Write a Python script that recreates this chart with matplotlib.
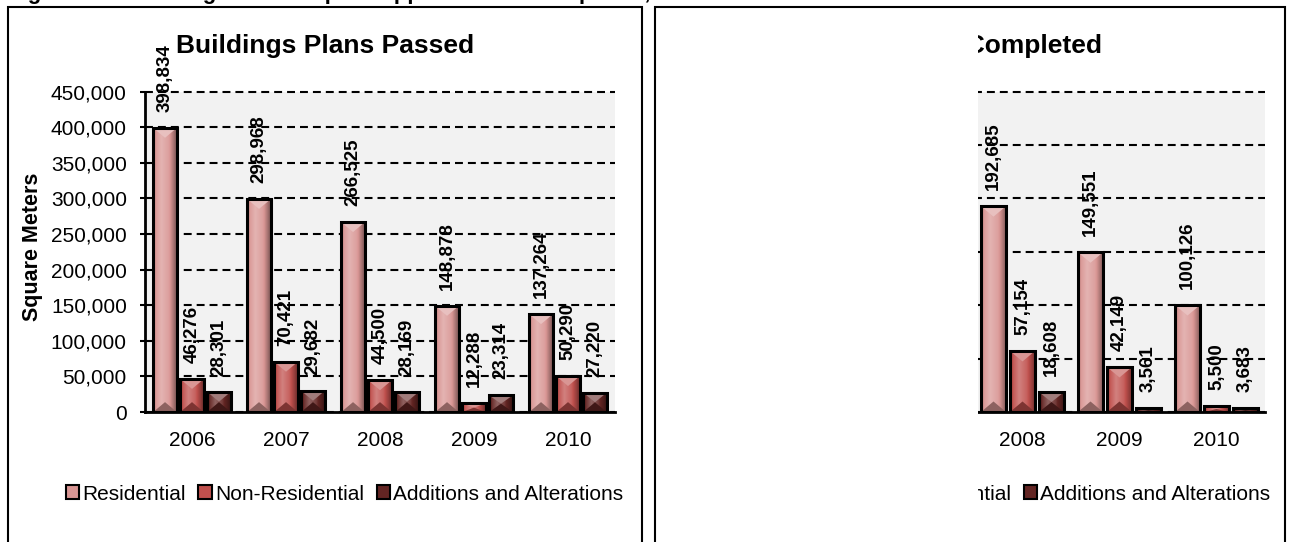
import numpy as np
import matplotlib
matplotlib.use("Agg")
import matplotlib.pyplot as plt
from matplotlib.colors import to_rgb
from matplotlib.patches import Polygon, Rectangle, Patch
from matplotlib.ticker import FuncFormatter

plt.rcParams["font.family"] = ["Liberation Sans", "DejaVu Sans"]

# Floor space figures (square meters)
SERIES = ["Residential", "Non-Residential", "Additions and Alterations"]
COLORS = ["#d99694", "#c0504d", "#632523"]

PASSED_YEARS = ["2006", "2007", "2008", "2009", "2010"]
PASSED_RES = [398834, 298968, 266525, 148878, 137264]
PASSED_NONRES = [46276, 70421, 44500, 12288, 50290]
PASSED_ADD = [28301, 29682, 28169, 23314, 27220]

COMPLETED_YEARS = ["2008", "2009", "2010"]
COMPLETED_RES = [192685, 149551, 100126]
COMPLETED_NONRES = [57154, 42149, 5500]
COMPLETED_ADD = [18608, 3561, 3683]

W, H = 1291, 542
fig = plt.figure(figsize=(W / 100, H / 100), dpi=100)


def fx(px):
    return px / W


def fy(py):
    return 1 - py / H


def shade(color, f):
    c = np.array(to_rgb(color))
    if f >= 0:
        return c + (1 - c) * f
    return c * (1 + f)


def bevel(ax, bar, color, px_per_unit_y, px_per_unit_x):
    """Paint a bevelled look over a plain bar patch."""
    x0, w, h = bar.get_x(), bar.get_width(), bar.get_height()
    t = np.linspace(0, 1, 64)
    prof = np.interp(t, [0, 0.12, 0.35, 0.65, 0.88, 1.0],
                     [-0.25, 0.05, 0.28, 0.10, -0.25, -0.45])
    grad = np.array([[shade(color, f) for f in prof]])
    ax.imshow(grad, extent=(x0, x0 + w, 0, h), aspect="auto",
              interpolation="bilinear", zorder=2.1)
    h_px = h * px_per_unit_y
    w_px = w * px_per_unit_x
    d_px = min(w_px * 0.42, h_px / 2)
    d = d_px / px_per_unit_y
    xc = x0 + w / 2
    ax.add_patch(Polygon([(x0, h), (x0 + w, h), (xc, h - d)], closed=True,
                         facecolor=shade(color, 0.4), edgecolor="none", zorder=2.2))
    ax.add_patch(Polygon([(x0, 0), (x0 + w, 0), (xc, d)], closed=True,
                         facecolor=shade(color, -0.35), edgecolor="none", zorder=2.2))
    ax.add_patch(Rectangle((x0, 0), w, h, fill=False, edgecolor="black",
                           linewidth=2.2, zorder=2.5))


def draw_chart(rect_px, years, series_vals, ymax, bar_w, off):
    left, right, top, bottom = rect_px
    ax = fig.add_axes([fx(left), fy(bottom), fx(right - left), (bottom - top) / H])
    x = np.arange(len(years))
    ax.set_facecolor("#f2f2f2")
    ppy = (bottom - top) / ymax
    ppx = (right - left) / len(years)
    for i, (vals, col) in enumerate(zip(series_vals, COLORS)):
        bars = ax.bar(x + (i - 1) * off, vals, width=bar_w, color=col,
                      edgecolor="black", linewidth=2, zorder=2, label=SERIES[i])
        for b, v in zip(bars, vals):
            bevel(ax, b, col, ppy, ppx)
            ax.annotate(f"{v:,}", xy=(b.get_x() + b.get_width() / 2, v),
                        xytext=(0, 16), textcoords="offset pixels",
                        rotation=90, ha="center", va="bottom",
                        fontsize=13.5, fontweight="bold", zorder=3)
    ax.set_xlim(-0.5, len(years) - 0.5)
    ax.set_ylim(0, ymax)
    ax.set_xticks(x)
    ax.set_xticklabels(years)
    ax.set_yticks(np.arange(0, ymax + 1, 50000))
    ax.yaxis.set_major_formatter(FuncFormatter(lambda v, _: f"{int(v):,}"))
    ax.tick_params(axis="x", length=0, pad=14, labelsize=15)
    ax.tick_params(axis="y", length=3.6, width=1.5, direction="out", pad=9.5,
                   labelsize=15)
    ax.set_axisbelow(True)
    ax.yaxis.grid(True, color="black", linestyle=(0, (3.8, 2.4)), linewidth=1.5)
    for gl in ax.yaxis.get_gridlines():
        gl.set_clip_on(False)
    for s in ["top", "right"]:
        ax.spines[s].set_visible(False)
    for s in ["left", "bottom"]:
        ax.spines[s].set_linewidth(2)
    return ax


def add_legend(ax, cx, cy):
    handles = [Patch(facecolor=c, edgecolor="black", linewidth=1.5) for c in COLORS]
    ax.legend(handles, SERIES, loc="center", bbox_to_anchor=(fx(cx), fy(cy)),
              bbox_transform=fig.transFigure, ncol=3, frameon=False, fontsize=15,
              handlelength=0.65, handleheight=0.65, handletextpad=0.15,
              columnspacing=0.6, borderpad=0, borderaxespad=0)


# left panel: plans passed
ax1 = draw_chart((145, 615, 91.5, 412), PASSED_YEARS,
                 [PASSED_RES, PASSED_NONRES, PASSED_ADD], 450000, 0.25, 0.287)
add_legend(ax1, 344.5, 494)
fig.text(fx(325), fy(53), "Buildings Plans Passed", ha="center", va="baseline",
         fontsize=19, fontweight="bold")
fig.text(fx(33), fy(247), "Square Meters", rotation=90, ha="center", va="center",
         fontsize=15.5, fontweight="bold")

# right panel: completed
ax2 = draw_chart((974, 1265, 91.5, 412), COMPLETED_YEARS,
                 [COMPLETED_RES, COMPLETED_NONRES, COMPLETED_ADD], 300000, 0.258, 0.299)
add_legend(ax2, 991.5, 494)
fig.text(fx(970), fy(53), "Buildings Completed", ha="center", va="baseline",
         fontsize=19, fontweight="bold")

# white mask over the left part of the right panel
fig.add_artist(Rectangle((fx(657), 0), fx(978) - fx(657), fy(8.5),
                         transform=fig.transFigure, facecolor="white",
                         edgecolor="none", zorder=10))

# panel frames
for x0, x1 in [(8, 642), (655, 1285)]:
    fig.add_artist(Rectangle((fx(x0), fy(560)), fx(x1 - x0), 553 / H,
                             transform=fig.transFigure, fill=False,
                             edgecolor="black", linewidth=1.5, zorder=11))

# page caption above the panels, running off the top edge
fig.text(fx(8), fy(-1.5),
         "Figure 6-3: Buildings - Floor Space approved and completed, 2006 - 2010",
         ha="left", va="baseline", fontsize=16, fontweight="bold")

fig.savefig("out.png", dpi=100, facecolor="white")
